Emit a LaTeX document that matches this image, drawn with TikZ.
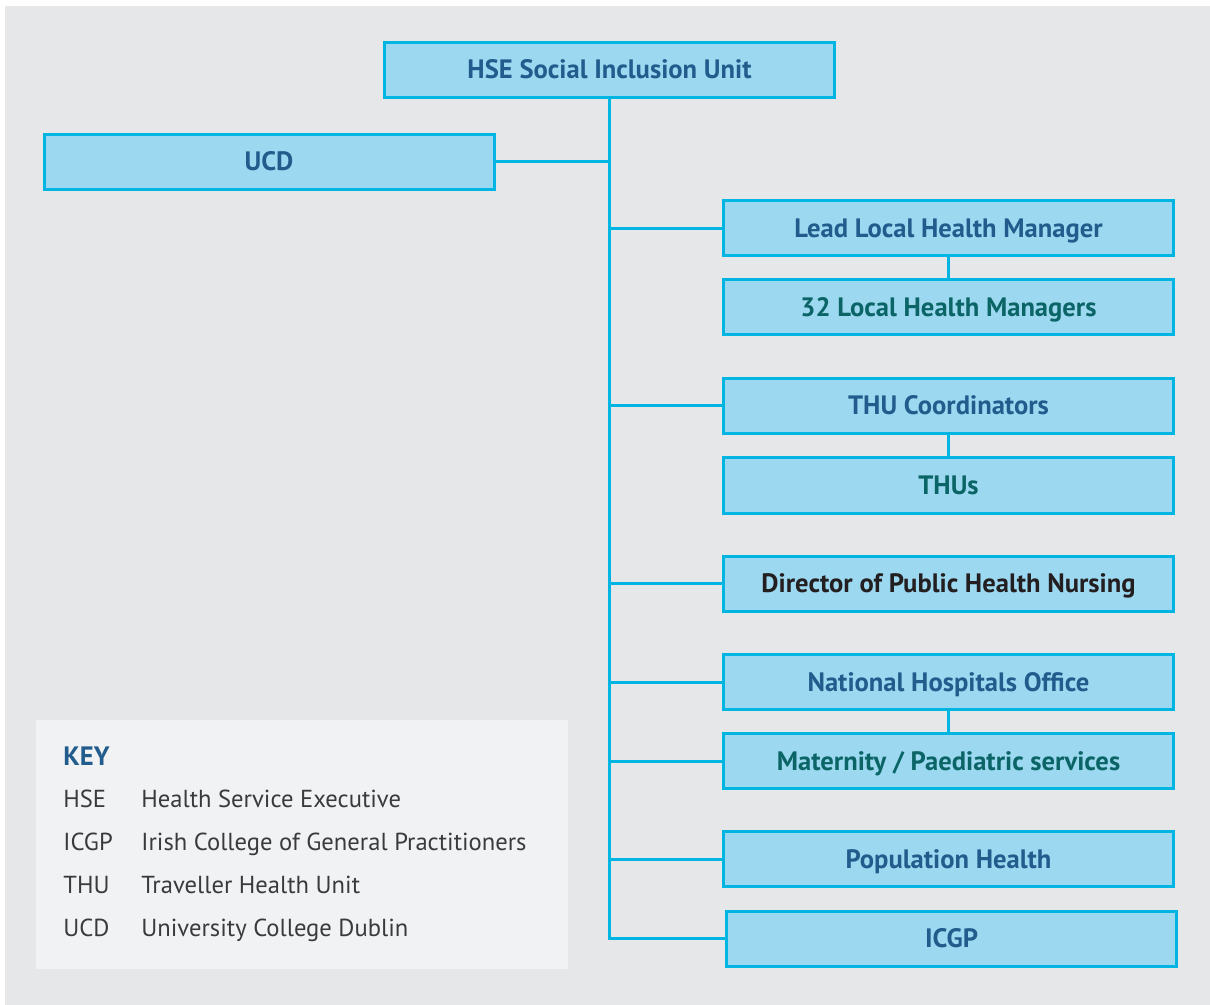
\documentclass[tikz,border=0pt]{standalone}
\usepackage{fontspec}
\setmainfont{PT Sans}
\usepackage{tikz}

\definecolor{pageGray}{HTML}{E6E7E8}
\definecolor{boxFill}{HTML}{9CD9F1}
\definecolor{boxLine}{HTML}{00B5E2}
\definecolor{blueText}{HTML}{215C8D}
\definecolor{tealText}{HTML}{0B6566}
\definecolor{darkText}{HTML}{231F20}
\definecolor{keyFill}{HTML}{F1F2F3}
\definecolor{keyText}{HTML}{3A3A3C}

\begin{document}
\begin{tikzpicture}[x=0.5pt,y=-0.5pt,
  unitbox/.style={draw=boxLine,line width=1.5pt,fill=boxFill,
    minimum width=225pt,minimum height=27.5pt,inner sep=0pt,
    text height=9pt,text depth=0pt,
    font=\bfseries\fontsize{13.3}{15}\selectfont,text=blueText},
  link/.style={draw=boxLine,line width=1.5pt},
  keyitem/.style={anchor=base west,inner sep=0pt,
    font=\fontsize{12.3}{15}\selectfont,text=keyText}]
  \useasboundingbox (0,0) rectangle (1210,1005);
  \fill[pageGray] (5,6) rectangle (1210,1005);

  \node[unitbox] (hse) at (609.5,70) {HSE Social Inclusion Unit};
  \node[unitbox] (ucd) at (269,162) {UCD};
  \node[unitbox] (lead) at (948.5,228.5) {Lead Local Health Manager};
  \node[unitbox,text=tealText] (locals) at (948.5,307.5) {32 Local Health Managers};
  \node[unitbox] (thuCoord) at (948.5,406) {THU Coordinators};
  \node[unitbox,text=tealText] (thus) at (948.5,485.5) {THUs};
  \node[unitbox,text=darkText] (director) at (948.5,583.5) {Director of Public Health Nursing};
  \node[unitbox] (nho) at (948.5,682) {National Hospitals Office};
  \node[unitbox,text=tealText] (maternity) at (948.5,761) {Maternity / Paediatric services};
  \node[unitbox] (population) at (948.5,859) {Population Health};
  \node[unitbox] (icgp) at (951.5,938.5) {ICGP};

  \draw[link] (hse.south) -- (hse.south |- icgp.west) -- (icgp.west);
  \draw[link] (ucd.east) -- (hse.south |- ucd.east);
  \foreach \n in {lead,thuCoord,director,nho,maternity,population}
    \draw[link] (hse.south |- \n.west) -- (\n.west);
  \draw[link] (lead) -- (locals);
  \draw[link] (thuCoord) -- (thus);
  \draw[link] (nho) -- (maternity);

  \node[fill=keyFill,anchor=north west,inner sep=0pt,
    minimum width=266pt,minimum height=124.5pt] (key) at (36,720) {};
  \node[anchor=base west,inner sep=0pt,text=blueText,
    font=\bfseries\fontsize{13.3}{15}\selectfont] (keyTitle) at (63,765) {KEY};
  \foreach \abbr/\full [count=\i] in {HSE/Health Service Executive,
      ICGP/Irish College of General Practitioners,
      THU/Traveller Health Unit,
      UCD/University College Dublin} {
    \node[keyitem] (keyAbbr\i) at (63,764+43*\i) {\abbr};
    \node[keyitem] (keyFull\i) at (141,764+43*\i) {\full};
  }
\end{tikzpicture}
\end{document}
